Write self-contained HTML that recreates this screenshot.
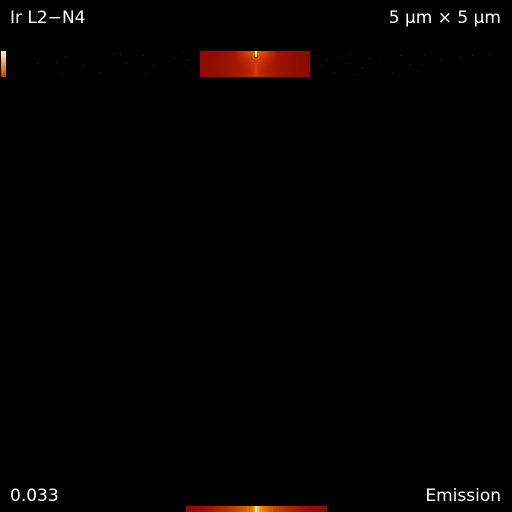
<!DOCTYPE html>
<html><head><meta charset="utf-8"><style>
html,body{margin:0;padding:0;background:#000;width:512px;height:512px;overflow:hidden}
svg{display:block}
text{font-family:"DejaVu Sans","Liberation Sans",sans-serif;fill:#fff;font-size:17px}
</style></head><body>
<svg id="c" width="512" height="512" viewBox="0 0 512 512">
<defs>
<linearGradient id="cb" x1="0" y1="1" x2="0" y2="0">
<stop offset="0" stop-color="#c04000"/><stop offset="0.5" stop-color="#f0a030"/><stop offset="1" stop-color="#fff8e8"/>
</linearGradient>
<radialGradient id="glow" cx="0.5" cy="0" r="0.7">
<stop offset="0" stop-color="#ff8010" stop-opacity="0.7"/><stop offset="1" stop-color="#c03000" stop-opacity="0"/>
</radialGradient>
</defs>
<rect width="512" height="512" fill="#000"/>
<text x="10" y="23">Ir L2−N4</text>
<text x="501" y="23" text-anchor="end">5 μm × 5 μm</text>
<text x="10" y="501">0.033</text>
<text x="501" y="501" text-anchor="end">Emission</text>
<rect x="1" y="51" width="5" height="26" fill="url(#cb)"/>
<g id="marks"></g>
</svg>
<script>
// horizontal emission profile (relative intensity) across image strip
const profileX = [200,210,220,230,240,250,254,256,258,262,270,280,290,300,310];
const profileV = [0.30,0.34,0.40,0.48,0.58,0.75,0.90,1.0,0.90,0.75,0.58,0.46,0.38,0.32,0.28];
// scattered speckle positions (x, y) outside main strip
const speckX = [37,56,62,65,83,100,113,120,125,143,145,153,173,182,186,190,188,316,322,327,333,338,345,350,356,362,370,380,392,400,410,418,424,440,460,472,490];
const speckY = [63,62,74,56,66,72,53,54,63,55,73,66,58,52,65,70,59,55,66,60,72,57,63,53,74,67,58,62,73,55,64,70,54,60,58,55,54];

const g = document.getElementById('marks');
const NS='http://www.w3.org/2000/svg';
const stripTop=51, stripH=26, barY=506, barH=6;
function stripColor(v){
  const r=Math.round(110+v*100), gg=Math.round(8+v*v*50);
  return `rgb(${r},${gg},0)`;
}
function barColor(v){
  const r=Math.round(Math.min(255,90+v*170));
  const gg=Math.round(Math.max(10,Math.min(255,(v-0.3)*260)));
  const b=Math.round(Math.max(0,(v-0.9)*1500));
  return `rgb(${r},${gg},${b})`;
}
const sub=4;
for(let i=0;i<profileX.length-1;i++){
  const x0=profileX[i], x1=profileX[i+1];
  for(let k=0;k<sub;k++){
    const t=(k+0.5)/sub, v=profileV[i]+(profileV[i+1]-profileV[i])*t;
    const sx=x0+(x1-x0)*k/sub, sw=(x1-x0)/sub;
    const r=document.createElementNS(NS,'rect');
    r.setAttribute('x',sx);r.setAttribute('y',stripTop);r.setAttribute('width',sw+0.3);r.setAttribute('height',stripH);
    r.setAttribute('fill',stripColor(v));
    
    
    g.appendChild(r);
    const bx=186+(sx-200)*141/110, bw=sw*141/110;
    const b=document.createElementNS(NS,'rect');
    b.setAttribute('x',bx);b.setAttribute('y',barY);b.setAttribute('width',bw+0.3);b.setAttribute('height',barH);
    b.setAttribute('fill',barColor(v));
    
    
    g.appendChild(b);
  }
}
const gl=document.createElementNS(NS,'rect');
gl.setAttribute('x',236);gl.setAttribute('y',stripTop);gl.setAttribute('width',40);gl.setAttribute('height',stripH);
gl.setAttribute('fill','url(#glow)');


g.appendChild(gl);
const hs=document.createElementNS(NS,'rect');
hs.setAttribute('x',255);hs.setAttribute('y',stripTop);hs.setAttribute('width',2);hs.setAttribute('height',6);
hs.setAttribute('fill','#fff0b0');


g.appendChild(hs);
const bh=document.createElementNS(NS,'rect');
bh.setAttribute('x',255);bh.setAttribute('y',barY);bh.setAttribute('width',2);bh.setAttribute('height',barH);
bh.setAttribute('fill','#fff8e0');


g.appendChild(bh);
for(let i=0;i<speckX.length;i++){
  const s=document.createElementNS(NS,'rect');
  s.setAttribute('x',speckX[i]);s.setAttribute('y',speckY[i]);s.setAttribute('width',1);s.setAttribute('height',1);
  s.setAttribute('fill','#6a0800');
  
  
  g.appendChild(s);
}
</script>
</body></html>
